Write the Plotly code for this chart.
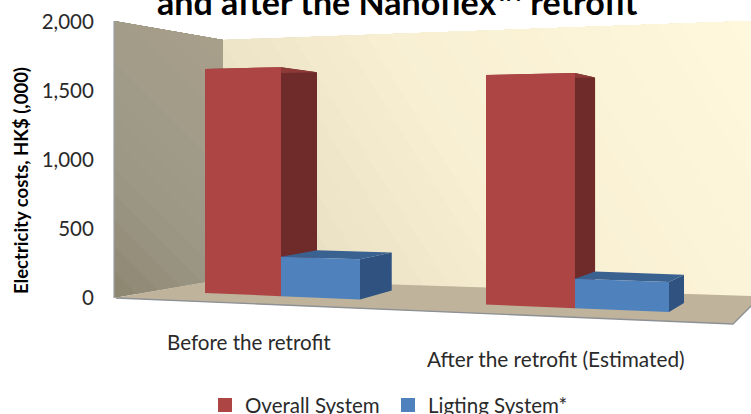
import numpy as np
import plotly.graph_objects as go

# ---------- data ----------
categories = ["Before the retrofit", "After the retrofit (Estimated)"]
overall_system = [1690, 1600]
lighting_system = [290, 200]
series_names = ["Overall System", "Ligting System*"]
y_ticks = [0, 500, 1000, 1500, 2000]
y_tick_labels = ["0", "500", "1,000", "1,500", "2,000"]
title_text = "and after the Nanoflex\u2122 retrofit"
y_title = "Electricity costs, HK$ (,000)"

# ---------- layout geometry (screen pixels) ----------
W, H = 751, 414
Y0, K = 297.5, 0.1378            # value 0 row and px per unit of the y axis
FRONT_EDGES = [(205, 281, 360), (486, 575, 669)]
FONT = "Lato"

def to_val(py):
    return (Y0 - py) / K

def project(px, v, d):
    """3-D to screen: front-plane x, value, depth 0..1"""
    dx = 36 - (px - 281) * 0.0541
    dy = -9 + v * 0.0083
    base = 293 + 0.0412 * (px - 205)
    scale = 132.5 * (1 + (px - 205) * 0.000295) / 1000
    return px + d * dx, base - scale * v + d * dy

fig = go.Figure()

def poly(pts, color, line=None, width=0):
    xs = [p[0] for p in pts] + [pts[0][0]]
    ys = [to_val(p[1]) for p in pts] + [to_val(pts[0][1])]
    fig.add_trace(go.Scatter(
        x=xs, y=ys, mode="lines", fill="toself", fillcolor=color,
        line=dict(color=line or color, width=width if line else 0),
        hoverinfo="skip", showlegend=False))

def clip_half(pts, nx, ny, c):
    out = []
    for i in range(len(pts)):
        a, b = pts[i], pts[(i + 1) % len(pts)]
        fa = nx * a[0] + ny * a[1] - c
        fb = nx * b[0] + ny * b[1] - c
        if fa >= 0:
            out.append(a)
        if (fa >= 0) != (fb >= 0):
            t = fa / (fa - fb)
            out.append((a[0] + t * (b[0] - a[0]), a[1] + t * (b[1] - a[1])))
    return out

def hexrgb(h):
    return np.array([int(h[i:i + 2], 16) for i in (1, 3, 5)], float)

def gradient_poly(pts, direction, stops, n=28):
    nx, ny = direction
    proj = [nx * p[0] + ny * p[1] for p in pts]
    lo, hi = min(proj), max(proj)
    ts = [s[0] for s in stops]
    cols = np.array([hexrgb(s[1]) for s in stops])
    for i in range(n):
        t = i / n
        c = [np.interp(t + .5 / n, ts, cols[:, k]) for k in range(3)]
        col = "rgb(%d,%d,%d)" % tuple(round(v) for v in c)
        region = clip_half(pts, nx, ny, lo + t * (hi - lo)) if i else pts
        if len(region) >= 3:
            poly(region, col)

# walls and floor
gradient_poly([(223, 40), (751, 21), (751, 296), (223, 279)], (0.85, -0.53),
              [(0, "#DFD4B3"), (0.18, "#EBE2C6"), (0.45, "#F8EFD3"), (1, "#FFF8DC")])
gradient_poly([(114, 21), (223, 40), (223, 279), (114, 298)], (0.7, -0.7),
              [(0, "#8C8570"), (0.3, "#9B9684"), (0.7, "#A29C89"), (1, "#A99F8A")], n=14)
poly([(114, 21), (114, 298)], "#9AA0A6", "#9AA0A6", 1.2)
poly([(114, 298), (223, 279), (751, 296), (751, 306), (733, 324)], "#BFB39C")
fig.add_trace(go.Scatter(x=[116, 733, 751], y=[to_val(298), to_val(324), to_val(306)],
                         mode="lines", line=dict(color="#8D9094", width=1.4),
                         hoverinfo="skip", showlegend=False))

# bars
PALETTE = [("#AC4543", "#6E2B2A", "#8C3937"), ("#4F81BD", "#2F5280", "#3A6291")]
for g, (left, mid, right) in enumerate(FRONT_EDGES):
    for edges, v, (front, side, top) in zip(
            [(left, mid), (mid, right)], [overall_system[g], lighting_system[g]], PALETTE):
        a, b = edges
        poly([project(b, 0, 0), project(b, 0, 1), project(b, v, 1), project(b, v, 0)], side)
        poly([project(a, v, 0), project(b, v, 0), project(b, v, 1), project(a, v, 1)], top)
        poly([project(a, 0, 0), project(b, 0, 0), project(b, v, 0), project(a, v, 0)], front)

# legend entries
legend_names = ["legend", "legend2"]
for name, color, lg in zip(series_names, ["#AC4543", "#4F81BD"], legend_names):
    fig.add_trace(go.Scatter(x=[None], y=[None], mode="markers", name=name, legend=lg,
                             marker=dict(symbol="square", size=14, color=color)))

legend_font = dict(family=FONT, size=20.5, color="#2A2A2A")
common_legend = dict(orientation="h", yanchor="bottom", xanchor="left", y=-0.027,
                     bgcolor="rgba(0,0,0,0)", font=legend_font, itemwidth=30)

def note(text, x, y, size, color="#2A2A2A", **kw):
    return dict(text=text, xref="paper", yref="paper", x=x / W, y=1 - y / H,
                xanchor="center", yanchor=kw.pop("yanchor", "middle"), showarrow=False,
                font=dict(family=FONT, size=size, color=color), **kw)

fig.update_layout(
    width=W, height=H, margin=dict(l=0, r=0, t=0, b=0, autoexpand=False),
    paper_bgcolor="white", plot_bgcolor="white",
    xaxis=dict(range=[0, W], visible=False, fixedrange=True),
    yaxis=dict(range=[to_val(H), to_val(0)], anchor="free", position=0.125,
               tickvals=y_ticks, ticktext=y_tick_labels, showgrid=False, zeroline=False,
               showline=False, ticks="", tickfont=dict(family=FONT, size=20.5, color="#2A2A2A"),
               fixedrange=True),
    legend=dict(x=205 / W, **common_legend),
    legend2=dict(x=388 / W, **common_legend),
    annotations=[
        note("<b>%s</b>" % title_text, 397, 24, 34, "black", yanchor="bottom"),
        note("<b>%s</b>" % y_title, 21, 181, 18.5, "black", textangle=-90),
        note(categories[0], 249, 342, 20.6),
        note(categories[1], 556, 358, 20.8),
    ],
)
fig.write_html("out.html", config=dict(displayModeBar=False),
               post_script="document.body.style.margin='0';")
